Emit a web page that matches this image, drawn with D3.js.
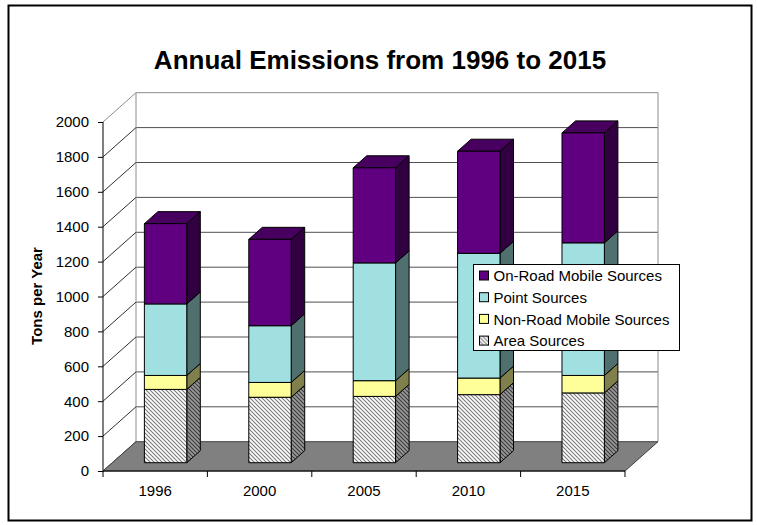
<!DOCTYPE html>
<html>
<head>
<meta charset="utf-8">
<script src="https://cdn.jsdelivr.net/npm/d3@7"></script>
<style>
  html, body { margin: 0; padding: 0; background: #fff; }
  svg { display: block; font-family: Arial, "Liberation Sans", sans-serif; }
</style>
</head>
<body>
<svg id="chart" width="757" height="525"></svg>
<script>
// ---- data (tons per year) ----
const categories = ["1996", "2000", "2005", "2010", "2015"];
const seriesKeys = ["area", "nonroad", "point", "onroad"];
const seriesLabels = ["Area Sources", "Non-Road Mobile Sources", "Point Sources", "On-Road Mobile Sources"];
const areaSources = [420, 375, 380, 390, 400];
const nonRoadMobile = [80, 85, 90, 95, 100];
const pointSources = [410, 325, 675, 715, 760];
const onRoadMobile = [460, 495, 545, 585, 630];
const yTickValues = [0, 200, 400, 600, 800, 1000, 1200, 1400, 1600, 1800, 2000];

const table = categories.map((c, i) => ({
  year: c,
  area: areaSources[i],
  nonroad: nonRoadMobile[i],
  point: pointSources[i],
  onroad: onRoadMobile[i]
}));

// ---- styling ----
const faceColors = {
  onroad:  { front: "#600080", side: "#300040", top: "#480060" },
  point:   { front: "#A0E0E0", side: "#507070", top: "#78A8A8" },
  nonroad: { front: "#FFFF99", side: "#80804C", top: "#C0C070" },
  area:    { front: "url(#hatchLight)", side: "url(#hatchDark)", top: "url(#hatchLight)" }
};

const svg = d3.select("#chart");

// hatch patterns for the area series
const defs = svg.append("defs");
function hatch(id, bg, fg, w) {
  const p = defs.append("pattern").attr("id", id)
    .attr("patternUnits", "userSpaceOnUse").attr("width", 4).attr("height", 4);
  p.append("rect").attr("width", 4).attr("height", 4).attr("fill", bg);
  p.append("path").attr("d", "M-1,-1L5,5M-1,3L1,5M3,-1L5,1")
    .attr("stroke", fg).attr("stroke-width", w);
}
hatch("hatchLight", "#ffffff", "#7a7a7a", 1.1);
hatch("hatchDark", "#9a9a9a", "#3a3a3a", 1.1);

// outer chart border
svg.append("rect").attr("x", 8.5).attr("y", 5.5).attr("width", 743).attr("height", 515)
  .attr("fill", "#fff").attr("stroke", "#000").attr("stroke-width", 2);

// title
svg.append("text").attr("x", 380).attr("y", 69).attr("text-anchor", "middle")
  .attr("font-size", 26).attr("font-weight", "bold")
  .text("Annual Emissions from 1996 to 2015");

// ---- 3D frame geometry ----
const x0 = 103, x1 = 625;        // front plane, horizontal extent
const DX = 33, DY = 29.3;        // depth offset of the back wall
const x = d3.scaleBand().domain(categories).range([x0, x1]).padding(0);
const y = d3.scaleLinear().domain([0, 2000]).range([471, 122]);
const proj = (px, py, f) => [px + f * DX, py - f * DY];
const poly = pts => "M" + pts.map(p => p.join(",")).join("L") + "Z";

const frame = svg.append("g");

// back wall gridlines and edges
frame.selectAll("line.grid").data(yTickValues.slice(1)).join("line")
  .attr("x1", x0 + DX).attr("x2", x1 + DX)
  .attr("y1", d => y(d) - DY).attr("y2", d => y(d) - DY)
  .attr("stroke", d => d === 2000 ? "#8c8c8c" : "#505050").attr("stroke-width", 1);
frame.append("line").attr("x1", x0 + DX).attr("x2", x0 + DX)
  .attr("y1", y(2000) - DY).attr("y2", y(0) - DY).attr("stroke", "#8c8c8c");
frame.append("line").attr("x1", x1 + DX).attr("x2", x1 + DX)
  .attr("y1", y(2000) - DY).attr("y2", y(0) - DY).attr("stroke", "#8c8c8c");

// side wall gridlines
frame.selectAll("line.side").data(yTickValues).join("line")
  .attr("x1", x0).attr("y1", d => y(d))
  .attr("x2", x0 + DX).attr("y2", d => y(d) - DY)
  .attr("stroke", d => d === 2000 ? "#8c8c8c" : "#303030").attr("stroke-width", 1);

// floor
frame.append("path")
  .attr("d", poly([[x0, y(0)], [x1, y(0)], proj(x1, y(0), 1), proj(x0, y(0), 1)]))
  .attr("fill", "#808080").attr("stroke", "#404040").attr("stroke-width", 1);
frame.append("line").attr("x1", x0).attr("x2", x1).attr("y1", y(0)).attr("y2", y(0))
  .attr("stroke", "#000").attr("stroke-width", 1.2);

// ---- bars ----
const stacked = d3.stack().keys(seriesKeys)(table);
const fFront = 0.283, fDepth = 0.41;
const barW = x.bandwidth() * 0.406;
const barOff = x.bandwidth() * 0.307;

const bars = svg.append("g");
categories.forEach((cat, i) => {
  const bx = x(cat) + barOff;
  stacked.forEach(layer => {
    const key = layer.key;
    const [v0, v1] = layer[i];
    const c = faceColors[key];
    const fl = proj(bx, y(v0), fFront), ft = proj(bx, y(v1), fFront);
    const frl = proj(bx + barW, y(v0), fFront), frt = proj(bx + barW, y(v1), fFront);
    const bl = proj(bx + barW, y(v0), fFront + fDepth), bt = proj(bx + barW, y(v1), fFront + fDepth);
    const btl = proj(bx, y(v1), fFront + fDepth);
    const g = bars.append("g").attr("stroke", "#000").attr("stroke-width", 1)
      .attr("stroke-linejoin", "round");
    g.append("path").attr("d", poly([ft, frt, bt, btl])).attr("fill", c.top);
    g.append("path").attr("d", poly([frl, bl, bt, frt])).attr("fill", c.side);
    g.append("path").attr("d", poly([fl, frl, frt, ft])).attr("fill", c.front);
  });
});

// ---- axes ----
const yAxis = svg.append("g").attr("transform", `translate(${x0},0)`)
  .call(d3.axisLeft(y).tickValues(yTickValues).tickSize(5).tickPadding(9).tickFormat(d3.format("d")));
yAxis.select(".domain").attr("stroke", "#000").attr("d", `M-0,${y(0)}V${y(2000)}`);
yAxis.selectAll("text").attr("font-size", 15).attr("font-family", "Arial, 'Liberation Sans', sans-serif").attr("fill", "#000");

const xAxis = svg.append("g").attr("transform", `translate(0,${y(0)})`)
  .call(d3.axisBottom(x).tickSize(0).tickPadding(14));
xAxis.select(".domain").remove();
xAxis.selectAll("text").attr("font-size", 15).attr("font-family", "Arial, 'Liberation Sans', sans-serif").attr("fill", "#000");
// category boundary ticks
svg.append("g").selectAll("line").data(categories.map(c => x(c)).concat([x1])).join("line")
  .attr("x1", d => d).attr("x2", d => d).attr("y1", y(0)).attr("y2", y(0) + 6)
  .attr("stroke", "#000");

// y axis title
svg.append("text").attr("transform", "translate(42,296) rotate(-90)")
  .attr("text-anchor", "middle").attr("font-size", 15).attr("font-weight", "bold")
  .text("Tons per Year");

// ---- legend ----
const legend = svg.append("g").attr("transform", "translate(473.5,264.5)");
legend.append("rect").attr("width", 206).attr("height", 86)
  .attr("fill", "#fff").attr("stroke", "#000").attr("stroke-width", 1);
const legendOrder = seriesKeys.slice().reverse();
const li = legend.selectAll("g.item").data(legendOrder).join("g")
  .attr("transform", (d, i) => `translate(6,${11.5 + i * 21.7})`);
li.append("rect").attr("x", 0).attr("y", -5).attr("width", 9).attr("height", 9)
  .attr("fill", d => faceColors[d].front).attr("stroke", "#000").attr("stroke-width", 1);
li.append("text").attr("x", 14).attr("y", 0).attr("dy", "0.35em").attr("font-size", 15)
  .text(d => seriesLabels[seriesKeys.indexOf(d)]);
</script>
</body>
</html>
